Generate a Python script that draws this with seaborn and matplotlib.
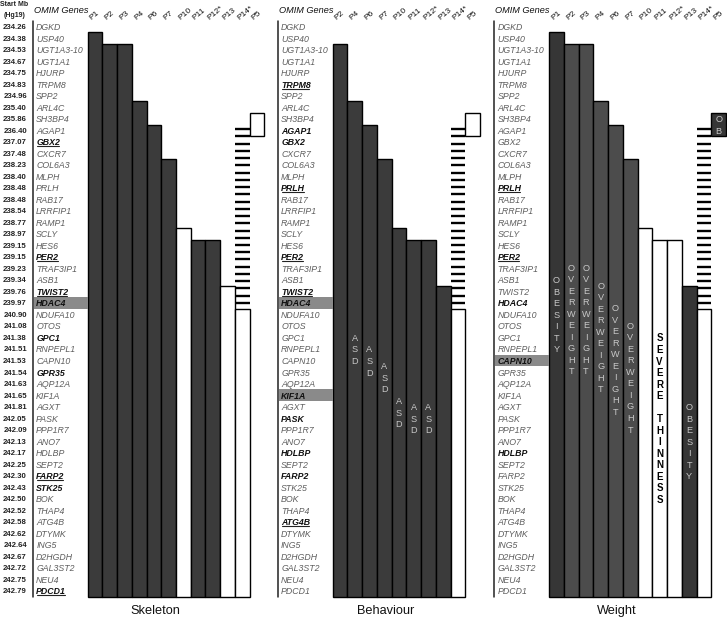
import numpy as np
import pandas as pd
import matplotlib
matplotlib.use("Agg")
import matplotlib.pyplot as plt
from matplotlib.patches import Rectangle
import seaborn as sns

# ---------------- data ----------------
genes = ['DGKD', 'USP40', 'UGT1A3-10', 'UGT1A1', 'HJURP', 'TRPM8', 'SPP2', 'ARL4C',
         'SH3BP4', 'AGAP1', 'GBX2', 'CXCR7', 'COL6A3', 'MLPH', 'PRLH', 'RAB17',
         'LRRFIP1', 'RAMP1', 'SCLY', 'HES6', 'PER2', 'TRAF3IP1', 'ASB1', 'TWIST2',
         'HDAC4', 'NDUFA10', 'OTOS', 'GPC1', 'RNPEPL1', 'CAPN10', 'GPR35', 'AQP12A',
         'KIF1A', 'AGXT', 'PASK', 'PPP1R7', 'ANO7', 'HDLBP', 'SEPT2', 'FARP2',
         'STK25', 'BOK', 'THAP4', 'ATG4B', 'DTYMK', 'ING5', 'D2HGDH', 'GAL3ST2',
         'NEU4', 'PDCD1']
start_mb = ['234.26', '234.38', '234.53', '234.67', '234.75', '234.83', '234.96', '235.40',
            '235.86', '236.40', '237.07', '237.48', '238.23', '238.40', '238.48', '238.48',
            '238.54', '238.77', '238.97', '239.15', '239.15', '239.23', '239.34', '239.76',
            '239.97', '240.90', '241.08', '241.38', '241.51', '241.53', '241.54', '241.63',
            '241.65', '241.81', '242.05', '242.09', '242.13', '242.17', '242.25', '242.30',
            '242.43', '242.50', '242.52', '242.58', '242.62', '242.64', '242.67', '242.72',
            '242.75', '242.79']

# Skeleton
skel_patients = ['P1', 'P2', 'P3', 'P4', 'P6', 'P7', 'P10', 'P11', 'P12*', 'P13', 'P14*']
skel_first_gene = ['USP40', 'UGT1A3-10', 'UGT1A3-10', 'ARL4C', 'AGAP1', 'COL6A3',
                   'SCLY', 'HES6', 'HES6', 'TWIST2', 'NDUFA10']
skel_status = ['affected', 'affected', 'affected', 'affected', 'affected', 'affected',
               'unaffected', 'affected', 'affected', 'unaffected', 'unaffected']
skel_p5_status = 'unaffected'
skel_bold = ['GBX2', 'PER2', 'TWIST2', 'HDAC4', 'GPC1', 'GPR35', 'FARP2', 'STK25', 'PDCD1']
skel_underline = ['GBX2', 'PER2', 'TWIST2', 'FARP2', 'PDCD1']
skel_highlight = ['HDAC4']

# Behaviour
beh_patients = ['P2', 'P4', 'P6', 'P7', 'P10', 'P11', 'P12*', 'P13', 'P14*']
beh_first_gene = ['UGT1A3-10', 'ARL4C', 'AGAP1', 'COL6A3', 'SCLY', 'HES6', 'HES6',
                  'TWIST2', 'NDUFA10']
beh_status = ['affected', 'affected', 'affected', 'affected', 'affected', 'affected',
              'affected', 'affected', 'unaffected']
beh_p5_status = 'unaffected'
beh_bold = ['TRPM8', 'AGAP1', 'GBX2', 'PRLH', 'PER2', 'TWIST2', 'HDAC4', 'KIF1A',
            'PASK', 'HDLBP', 'FARP2', 'ATG4B']
beh_underline = ['TRPM8', 'PRLH', 'PER2', 'TWIST2', 'ATG4B']
beh_highlight = ['HDAC4', 'KIF1A']
beh_notes = {'P4': 'ASD', 'P6': 'ASD', 'P7': 'ASD', 'P10': 'ASD', 'P11': 'ASD', 'P12*': 'ASD'}

# Weight
wt_patients = ['P1', 'P2', 'P3', 'P4', 'P6', 'P7', 'P10', 'P11', 'P12*', 'P13', 'P14*']
wt_first_gene = ['USP40', 'UGT1A3-10', 'UGT1A3-10', 'ARL4C', 'AGAP1', 'COL6A3',
                 'SCLY', 'HES6', 'HES6', 'TWIST2', 'NDUFA10']
wt_status = ['obese', 'overweight', 'overweight', 'overweight', 'overweight', 'overweight',
             'unaffected', 'unaffected', 'unaffected', 'obese', 'unaffected']
wt_p5_status = 'obese'
wt_bold = ['PRLH', 'PER2', 'HDAC4', 'CAPN10', 'HDLBP']
wt_underline = ['PRLH', 'PER2']
wt_highlight = ['CAPN10']
wt_notes = {'P1': 'OBESITY', 'P2': 'OVERWEIGHT', 'P3': 'OVERWEIGHT', 'P4': 'OVERWEIGHT',
            'P6': 'OVERWEIGHT', 'P7': 'OVERWEIGHT', 'P11': 'SEVERE THINNESS',
            'P13': 'OBESITY', 'P5': 'OB'}

p5_genes = ['SH3BP4', 'AGAP1']          # P5 small deletion
p14_mosaic_genes = ['AGAP1', 'HDAC4']   # P14* hatched (mosaic) span

# ---------------- layout / style ----------------
beh_note_rows = {'P4': 28.0, 'P6': 29.0, 'P7': 30.45, 'P10': 33.5, 'P11': 34.0, 'P12*': 34.0}
wt_note_rows = {'P1': 25.0, 'P2': 25.4, 'P3': 25.4, 'P4': 26.95, 'P6': 28.9, 'P7': 30.45,
                'P11': 34.0, 'P13': 36.0, 'P5': 8.5}

status_colors = {'affected': '#3b3b3b', 'unaffected': '#ffffff',
                 'obese': '#363636', 'overweight': '#4c4c4c'}

sns.set_style('white')
plt.rcParams['font.family'] = ['Liberation Sans', 'DejaVu Sans']

W, H = 727, 618
fig = plt.figure(figsize=(W / 100, H / 100), dpi=100)

top_px, bot_px = 20.9, 596.5


def make_ax(left_px, right_px):
    return fig.add_axes([left_px / W, 1 - bot_px / H,
                         (right_px - left_px) / W, (bot_px - top_px) / H])


n = len(genes)
underlined = []


def draw_panel(ax, title, title_x, patients, first_gene, status, p5_status,
               bold, underline, highlight, notes=None, note_rows=None, show_mb=False):
    order = patients + ['P5']
    heights = [n - genes.index(g) for g in first_gene]
    df = pd.DataFrame({'patient': patients, 'rows': heights, 'status': status})
    pal = {p: status_colors[s] for p, s in zip(patients, status)}
    sns.barplot(data=df, x='patient', y='rows', hue='patient', palette=pal,
                order=order, hue_order=patients, width=1.0, saturation=1,
                edgecolor='black', linewidth=1.0, legend=False, ax=ax)
    # P5 box
    x5 = order.index('P5')
    i0, i1 = genes.index(p5_genes[0]), genes.index(p5_genes[1])
    ax.bar(x5, i1 - i0 + 1, bottom=n - i1 - 1, width=1.0,
           color=status_colors[p5_status], edgecolor='black', linewidth=1.0)
    # P14* mosaic dashes
    x14 = order.index('P14*')
    m0, m1 = genes.index(p14_mosaic_genes[0]), genes.index(p14_mosaic_genes[1])
    ys = np.linspace(n - 0.5 - m0 + 0.1, n - 0.5 - m1, 25)
    ax.hlines(ys, x14 - 0.5, x14 + 0.5, color='black', lw=1.7, clip_on=False)

    for p in ax.patches:
        p.set_clip_on(False)

    ax.set_xlim(-0.5, len(order) - 0.5)
    ax.set_ylim(0, n)
    ax.set_axis_off()

    # separator line
    ax.plot([-4.2, -4.2], [0, n], color='#222222', lw=1.1, clip_on=False)

    # gene labels
    for i, g in enumerate(genes):
        y = n - i - 0.5
        if g in highlight:
            ax.add_patch(Rectangle((-4.15, y - 0.5), 3.65, 1.0, facecolor='#8a8a8a',
                                   edgecolor='none', clip_on=False, zorder=1))
        isb = g in bold
        t = ax.text(-4.0, y, g, ha='left', va='center_baseline', fontsize=6.3,
                    style='italic', weight='bold' if isb else 'normal',
                    color='#111111' if isb else '#5e5e5e', clip_on=False, zorder=3)
        if g in underline:
            underlined.append((ax, t))
        if show_mb:
            ax.text(-4.63, y, start_mb[i], ha='right', va='center_baseline',
                    fontsize=5.6, weight='bold', color='#222222', clip_on=False)

    if show_mb:
        ax.text(-5.47, 51.42, 'Start Mb', ha='center', va='center', fontsize=5.0,
                weight='bold', color='#222222', clip_on=False)
        ax.text(-5.47, 50.47, '(Hg19)', ha='center', va='center', fontsize=5.0,
                weight='bold', color='#222222', clip_on=False)

    ax.text(-4.15, 50.86, 'OMIM Genes', ha='left', va='center', fontsize=6.6,
            style='italic', color='#111111', clip_on=False)

    # patient headers
    for c, p in enumerate(order):
        ax.text(c - 0.22, n + 0.12, p, rotation=40, rotation_mode='anchor',
                ha='left', va='baseline', fontsize=6.0, color='#111111', clip_on=False)

    # vertical annotations
    if notes:
        for p, txt in notes.items():
            c = order.index(p)
            letters = list(txt)
            center = note_rows[p]
            bar_status = p5_status if p == 'P5' else status[patients.index(p)]
            dark = bar_status != 'unaffected'
            for k, ch in enumerate(letters):
                if ch == ' ':
                    continue
                row = center + (k - (len(letters) - 1) / 2) * 1.0
                ax.text(c, n - row - 0.5, ch, ha='center', va='center_baseline',
                        fontsize=6.6 if dark else 7.0,
                        weight='normal' if dark else 'bold',
                        color='#c8c8c8' if dark else '#000000', clip_on=False, zorder=4)

    ax.text(title_x, -1.3, title, ha='center', va='center', fontsize=9.2,
            color='#111111', clip_on=False)


ax1 = make_ax(87.7, 264.3)
ax2 = make_ax(332.7, 480.0)
ax3 = make_ax(549.0, 726.0)

draw_panel(ax1, 'Skeleton', 4.09, skel_patients, skel_first_gene, skel_status,
           skel_p5_status, skel_bold, skel_underline, skel_highlight, show_mb=True)
draw_panel(ax2, 'Behaviour', 3.08, beh_patients, beh_first_gene, beh_status,
           beh_p5_status, beh_bold, beh_underline, beh_highlight,
           notes=beh_notes, note_rows=beh_note_rows)
draw_panel(ax3, 'Weight', 4.06, wt_patients, wt_first_gene, wt_status,
           wt_p5_status, wt_bold, wt_underline, wt_highlight,
           notes=wt_notes, note_rows=wt_note_rows)

# underlines measured from rendered text
fig.canvas.draw()
renderer = fig.canvas.get_renderer()
for ax, t in underlined:
    bb = t.get_window_extent(renderer)
    inv = ax.transData.inverted()
    (x0, y0), (x1, _) = inv.transform([(bb.x0 + 0.5, bb.y0 + 1.0), (bb.x1 - 1.5, bb.y0 + 1.0)])
    ax.plot([x0, x1], [y0, y0], color='#222222', lw=0.8, clip_on=False)

fig.savefig('out.png', dpi=100)
